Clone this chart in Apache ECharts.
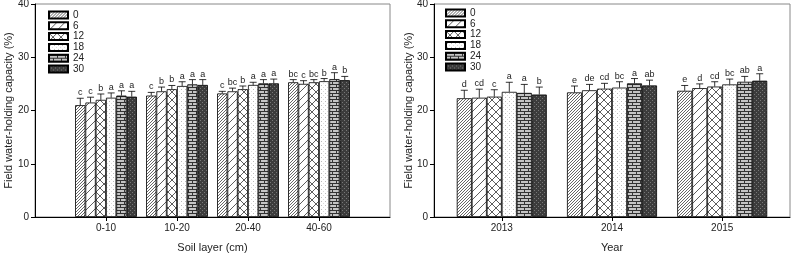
<!DOCTYPE html>
<html>
<head>
<meta charset="utf-8">
<script src="https://cdn.jsdelivr.net/npm/echarts@6/dist/echarts.min.js"></script>
<style>
	html, body { margin: 0; padding: 0; background: #fff; }
	#left { position: absolute; left: 0; top: 0; width: 400px; height: 254px; }
	#right { position: absolute; left: 400px; top: 0; width: 392px; height: 254px; }
</style>
</head>
<body>
<div id="left"></div>
<div id="right"></div>
<script>
const treatments = [ '0', '6', '12', '18', '24', '30' ];

const soilLayers = [ '0-10', '10-20', '20-40', '40-60' ];
const soilMeans = [
	[ 21.0, 22.8, 23.2, 25.3 ],
	[ 21.5, 23.6, 23.6, 25.0 ],
	[ 22.0, 24.0, 24.0, 25.3 ],
	[ 22.4, 24.6, 24.8, 25.5 ],
	[ 22.8, 24.9, 25.1, 25.9 ],
	[ 22.6, 24.8, 25.1, 25.7 ]
];
const soilErrors = [
	[ 1.3, 0.6, 0.4, 0.5 ],
	[ 1.0, 0.8, 0.6, 0.6 ],
	[ 1.1, 0.7, 0.6, 0.5 ],
	[ 0.9, 0.8, 0.5, 0.5 ],
	[ 0.9, 0.9, 0.7, 1.2 ],
	[ 1.0, 1.0, 0.8, 0.7 ]
];
const soilLetters = [
	[ 'c', 'c', 'c', 'bc' ],
	[ 'c', 'b', 'bc', 'c' ],
	[ 'b', 'b', 'b', 'bc' ],
	[ 'a', 'a', 'a', 'b' ],
	[ 'a', 'a', 'a', 'a' ],
	[ 'a', 'a', 'a', 'b' ]
];

const years = [ '2013', '2014', '2015' ];
const yearMeans = [
	[ 22.3, 23.4, 23.7 ],
	[ 22.4, 23.8, 24.2 ],
	[ 22.6, 24.1, 24.5 ],
	[ 23.5, 24.3, 24.9 ],
	[ 23.3, 25.1, 25.4 ],
	[ 23.0, 24.7, 25.6 ]
];
const yearErrors = [
	[ 1.5, 1.2, 1.0 ],
	[ 1.6, 1.1, 0.8 ],
	[ 1.3, 1.0, 0.9 ],
	[ 1.8, 1.1, 1.0 ],
	[ 1.6, 0.9, 1.0 ],
	[ 1.4, 1.0, 1.3 ]
];
const yearLetters = [
	[ 'd', 'e', 'e' ],
	[ 'cd', 'de', 'd' ],
	[ 'c', 'cd', 'cd' ],
	[ 'a', 'bc', 'bc' ],
	[ 'a', 'a', 'ab' ],
	[ 'b', 'ab', 'a' ]
];

const FONT = '"Liberation Sans", Arial, sans-serif';

// small canvas tiles used as bar fills
function tile( w, h, draw ) {
	const c = document.createElement( 'canvas' );
	c.width = w;
	c.height = h;
	const ctx = c.getContext( '2d' );
	ctx.fillStyle = '#fff';
	ctx.fillRect( 0, 0, w, h );
	draw( ctx );
	return { image: c, repeat: 'repeat' };
}

function line( ctx, x1, y1, x2, y2 ) {
	ctx.beginPath();
	ctx.moveTo( x1, y1 );
	ctx.lineTo( x2, y2 );
	ctx.stroke();
}

const patterns = [
	tile( 3, 3, ( ctx ) => {
		ctx.strokeStyle = '#555';
		ctx.lineWidth = 0.9;
		line( ctx, -1, 4, 4, -1 );
		line( ctx, -1, 1, 1, -1 );
		line( ctx, 2, 4, 4, 2 );
	} ),
	tile( 8, 8, ( ctx ) => {
		ctx.strokeStyle = '#333';
		ctx.lineWidth = 0.8;
		line( ctx, -1, 9, 9, -1 );
	} ),
	tile( 8, 8, ( ctx ) => {
		ctx.strokeStyle = '#333';
		ctx.lineWidth = 0.8;
		line( ctx, -1, 9, 9, -1 );
		line( ctx, -1, -1, 9, 9 );
	} ),
	tile( 4, 4, ( ctx ) => {
		ctx.fillStyle = '#bbb';
		ctx.fillRect( 1, 1, 1, 1 );
		ctx.fillStyle = '#ddd';
		ctx.fillRect( 3, 3, 1, 1 );
	} ),
	tile( 8, 6, ( ctx ) => {
		ctx.fillStyle = '#c4c4c4';
		ctx.fillRect( 0, 0, 8, 6 );
		ctx.fillStyle = '#333';
		ctx.fillRect( 0, 0, 8, 1 );
		ctx.fillRect( 0, 3, 8, 1 );
		ctx.fillRect( 0, 0, 1, 3 );
		ctx.fillRect( 4, 3, 1, 3 );
	} ),
	tile( 4, 4, ( ctx ) => {
		ctx.fillStyle = '#3c3c3c';
		ctx.fillRect( 0, 0, 4, 4 );
		ctx.fillStyle = '#777';
		ctx.fillRect( 0, 0, 1, 1 );
		ctx.fillRect( 2, 2, 1, 1 );
	} )
];

function barSeries( means, barW ) {
	return means.map( ( row, k ) => ( {
		name: treatments[ k ],
		type: 'bar',
		barWidth: barW,
		barGap: '0%',
		data: row.map( ( v, i ) => [ i + 1, v ] ),
		itemStyle: { color: patterns[ k ], borderColor: '#000', borderWidth: 0.8 },
		animation: false
	} ) );
}

function errorSeries( means, errors, letters, barW ) {
	const data = [];
	means.forEach( ( row, k ) => {
		row.forEach( ( v, i ) => data.push( [ i + 1, v, errors[ k ][ i ], k ] ) );
	} );
	return {
		type: 'custom',
		data: data,
		z: 10,
		silent: true,
		animation: false,
		renderItem: ( params, api ) => {
			const k = api.value( 3 );
			const x0 = api.value( 0 );
			const base = api.coord( [ x0, api.value( 1 ) ] );
			const end = api.coord( [ x0, api.value( 1 ) + api.value( 2 ) ] );
			const x = base[ 0 ] + ( k - 2.5 ) * barW;
			const style = { stroke: '#000', lineWidth: 0.8 };
			return {
				type: 'group',
				children: [
					{ type: 'line', shape: { x1: x, y1: base[ 1 ], x2: x, y2: end[ 1 ] }, style },
					{ type: 'line', shape: { x1: x - 3.5, y1: end[ 1 ], x2: x + 3.5, y2: end[ 1 ] }, style },
					{
						type: 'text',
						x: x,
						y: end[ 1 ] - 1,
						style: {
							text: letters[ k ][ x0 - 1 ],
							font: '9px ' + FONT,
							fill: '#222',
							align: 'center',
							verticalAlign: 'bottom'
						}
					}
				]
			};
		}
	};
}

function makeOption( cfg ) {
	return {
		animation: false,
		textStyle: { fontFamily: FONT },
		grid: {
			left: cfg.left, top: 4, width: cfg.width, height: 213,
			outerBoundsMode: 'none',
			show: true, borderColor: '#888', borderWidth: 1
		},
		legend: {
			data: treatments,
			orient: 'vertical',
			left: cfg.legendLeft,
			top: cfg.legendTop,
			padding: 0,
			icon: 'rect',
			itemWidth: 19,
			itemHeight: 7,
			itemGap: 0.8,
			selectedMode: false,
			textStyle: { fontSize: 10, color: '#222', fontFamily: FONT }
		},
		xAxis: {
			type: 'value',
			min: cfg.min,
			max: cfg.max,
			name: cfg.xName,
			nameLocation: 'middle',
			nameGap: 25,
			nameTextStyle: { fontSize: 11, color: '#222' },
			axisLine: { lineStyle: { color: '#000', width: 1 } },
			axisTick: { customValues: cfg.cats.map( ( c, i ) => i + 1 ), length: 4, lineStyle: { color: '#000' } },
			axisLabel: {
				customValues: cfg.cats.map( ( c, i ) => i + 1 ),
				formatter: ( v ) => cfg.cats[ Math.round( v ) - 1 ] || '',
				fontSize: 10,
				color: '#222',
				margin: 6
			},
			splitLine: { show: false }
		},
		yAxis: {
			type: 'value',
			min: 0,
			max: 40,
			interval: 10,
			name: 'Field water-holding capacity (%)',
			nameLocation: 'middle',
			nameGap: cfg.yNameGap,
			nameMoveOverlap: false,
			nameTextStyle: { fontSize: 11, color: '#222' },
			axisLine: { show: true, lineStyle: { color: '#000', width: 1 } },
			axisTick: { show: true, length: 4, lineStyle: { color: '#000' } },
			axisLabel: { fontSize: 10, color: '#222', margin: 6 },
			splitLine: { show: false }
		},
		series: barSeries( cfg.means, cfg.barW ).concat(
			errorSeries( cfg.means, cfg.errors, cfg.letters, cfg.barW )
		)
	};
}

const leftChart = echarts.init( document.getElementById( 'left' ), null, { renderer: 'canvas' } );
leftChart.setOption( makeOption( {
	left: 35, width: 355, min: 0, max: 5,
	cats: soilLayers, means: soilMeans, errors: soilErrors, letters: soilLetters,
	barW: 10.3, xName: 'Soil layer (cm)', yNameGap: 21,
	legendLeft: 48, legendTop: 10
} ) );

const rightChart = echarts.init( document.getElementById( 'right' ), null, { renderer: 'canvas' } );
rightChart.setOption( makeOption( {
	left: 34, width: 356, min: 0.385, max: 3.615,
	cats: years, means: yearMeans, errors: yearErrors, letters: yearLetters,
	barW: 15, xName: 'Year', yNameGap: 20,
	legendLeft: 45, legendTop: 8
} ) );
</script>
</body>
</html>
